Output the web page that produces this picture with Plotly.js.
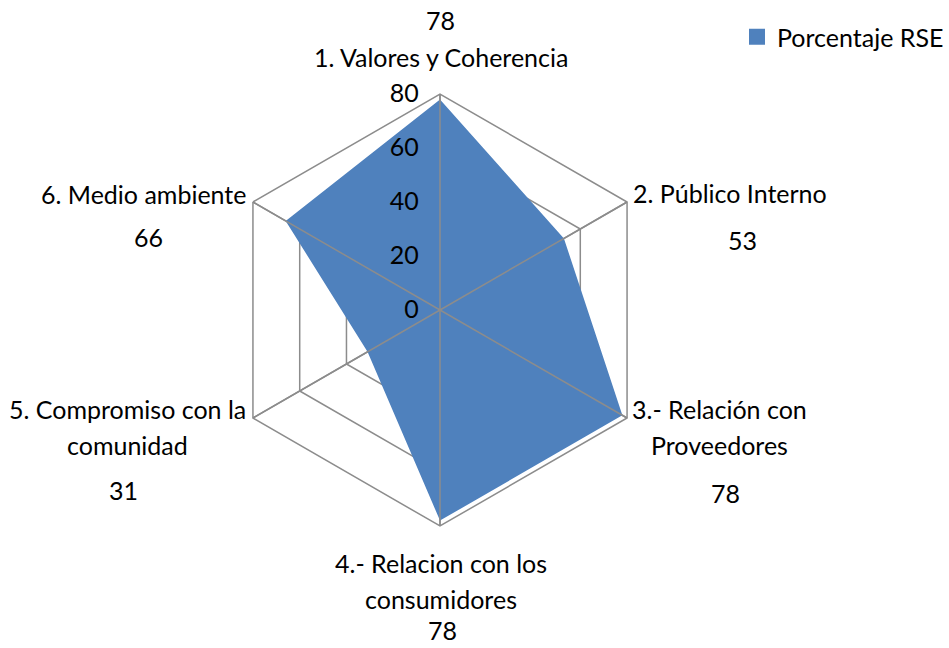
<!DOCTYPE html>
<html>
<head>
<meta charset="utf-8">
<script src="https://cdn.plot.ly/plotly-3.0.1.min.js"></script>
<style>html,body{margin:0;padding:0;background:#fff;}#chart{width:949px;height:648px;}</style>
</head>
<body>
<div id="chart"></div>
<script>
var categories = ["1. Valores y Coherencia", "2. Público Interno", "3.- Relación con<br>Proveedores", "4.- Relacion con los<br>consumidores", "5. Compromiso con la<br>comunidad", "6. Medio ambiente"];
var values = [78, 53, 78, 78, 31, 66];
var seriesName = "Porcentaje RSE";
var radialTicks = [0, 20, 40, 60, 80];

var W = 949, H = 648;
function px(x) { return x / W; }
function py(y) { return 1 - y / H; }

var FONT = "Lato, 'Open Sans', sans-serif";
var FS = 25;
var LINE_GAP = 36;
var BLUE = "#4F81BD";
var GRID = "#8c8c8c";

var trace = {
  type: "scatterpolar",
  r: values.concat([values[0]]),
  theta: categories.concat([categories[0]]),
  mode: "none",
  fill: "toself",
  fillcolor: BLUE,
  line: { color: BLUE, width: 0 },
  name: seriesName,
  showlegend: false,
  hoverinfo: "skip"
};

// spokes drawn on top of the fill (as in the reference), from axis min to max
var rMax = radialTicks[radialTicks.length - 1];
var spokeR = [], spokeT = [];
categories.forEach(function (c) {
  spokeR.push(radialTicks[0], rMax, null);
  spokeT.push(c, c, null);
});
var spokes = {
  type: "scatterpolar",
  r: spokeR, theta: spokeT,
  mode: "lines",
  line: { color: GRID, width: 1.5 },
  connectgaps: false,
  showlegend: false,
  hoverinfo: "skip"
};

// legend-only entry with a square swatch (no data drawn)
var legendTrace = {
  type: "scatterpolar",
  r: [null], theta: [null],
  mode: "markers",
  marker: { symbol: "square", size: 16, color: BLUE },
  name: seriesName,
  showlegend: true,
  hoverinfo: "skip"
};

// label placement (layout positions, pixels): centre of first line
var catPos = [[441, 57], [730, 193], [719, 409], [441, 563], [128, 409], [143, 194]];
var valPos = [[440, 20], [742, 240], [725, 493], [442, 630], [123, 490], [148, 237]];

var annotations = [];
for (var i = 0; i < categories.length; i++) {
  var lines = categories[i].split("<br>");
  for (var j = 0; j < lines.length; j++) {
    annotations.push({
      xref: "paper", yref: "paper", x: px(catPos[i][0]), y: py(catPos[i][1] + j * LINE_GAP),
      text: lines[j], showarrow: false, xanchor: "center", yanchor: "middle", borderpad: 0,
      font: { family: FONT, size: FS, color: "#000" }
    });
  }
  annotations.push({
    xref: "paper", yref: "paper", x: px(valPos[i][0]), y: py(valPos[i][1]),
    text: String(values[i]), showarrow: false, xanchor: "center", yanchor: "middle", borderpad: 0,
    font: { family: FONT, size: FS, color: "#000" }
  });
}

var cx = 440, cy = 310, R = 216;
var layout = {
  width: W, height: H,
  margin: { l: 0, r: 0, t: 0, b: 0, autoexpand: false },
  paper_bgcolor: "#fff",
  font: { family: FONT, size: FS, color: "#000" },
  showlegend: true,
  legend: {
    x: 1, y: py(14), xanchor: "right", yanchor: "top",
    font: { family: FONT, size: FS, color: "#000" },
    bgcolor: "rgba(0,0,0,0)", itemwidth: 30
  },
  polar: {
    domain: { x: [px(cx - R), px(cx + R)], y: [py(cy + R), py(cy - R)] },
    bgcolor: "#fff",
    gridshape: "linear",
    radialaxis: {
      range: [0, 80], tickvals: radialTicks, ticktext: radialTicks.map(String),
      angle: 90, tickangle: 90, side: "counterclockwise",
      showline: false, ticks: "outside", ticklen: 12, tickcolor: "rgba(0,0,0,0)",
      gridcolor: GRID, gridwidth: 1.5,
      tickfont: { family: FONT, size: FS, color: "#000" }
    },
    angularaxis: {
      rotation: 90, direction: "clockwise",
      showticklabels: false, ticks: "",
      showline: true, linecolor: GRID, linewidth: 1.5,
      gridcolor: GRID, gridwidth: 1.5
    }
  },
  annotations: annotations
};

Plotly.newPlot("chart", [trace, spokes, legendTrace], layout, { displayModeBar: false, staticPlot: true });
</script>
</body>
</html>
